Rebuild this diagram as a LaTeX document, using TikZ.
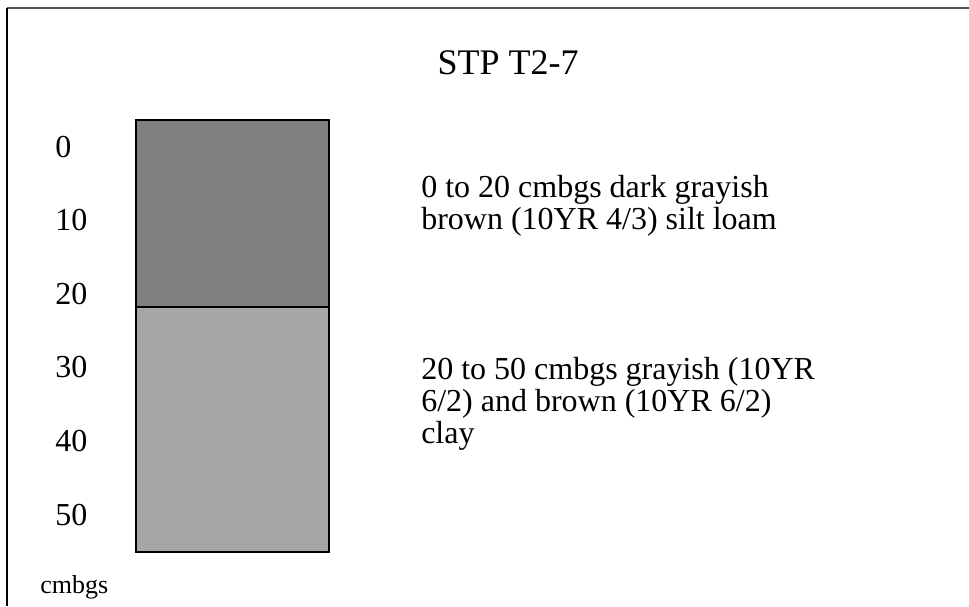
\documentclass[tikz,border=0pt]{standalone}
\usepackage{fontspec}
\setmainfont{Liberation Serif}

\tikzset{
    depthlabel/.style={anchor=base west, inner sep=0pt, font=\fontsize{24}{24}\selectfont},
    layertext/.style={anchor=north west, inner sep=0pt, align=left, font=\fontsize{24}{24}\selectfont},
}

\begin{document}
\begin{tikzpicture}[x=0.75pt, y=-0.75pt]
        \useasboundingbox (0,0) rectangle (969,606);

        \draw[black!67, line width=1.5pt] (7,8) -- (969,8);
        \draw[black, line width=1pt] (7,8) -- (7,606);

        \node[anchor=base, inner sep=0pt, font=\fontsize{27}{27}\selectfont] (title) at (508,75) {STP T2-7};

        \filldraw[fill=black!50, draw=black, line width=1.5pt] (136,120) rectangle (329,307);
        \filldraw[fill=black!35, draw=black, line width=1.5pt] (136,307) rectangle (329,552);

        \foreach \d [count=\i from 0] in {0,10,20,30,40,50}
            \node[depthlabel] (d\d) at (55,157+73.6*\i) {\d};

        \node[anchor=base west, inner sep=0pt, font=\fontsize{19.5}{19.5}\selectfont] (unit) at (40,593) {cmbgs};

        \node[layertext] (layer1) at (421,175) {0 to 20 cmbgs dark grayish\\brown (10YR 4/3) silt loam};
        \node[layertext] (layer2) at (421,357) {20 to 50 cmbgs grayish (10YR\\6/2) and brown (10YR 6/2)\\clay};
    \end{tikzpicture}
\end{document}
